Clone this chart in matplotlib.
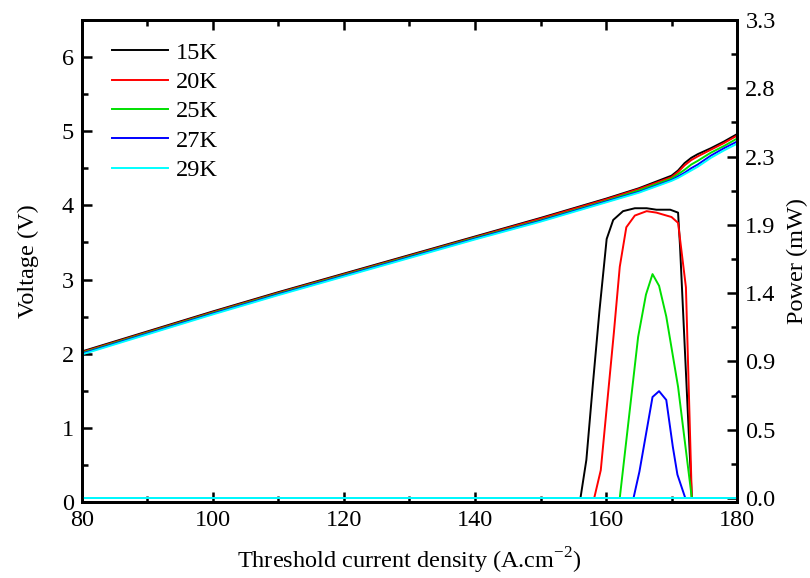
import numpy as np
import matplotlib
matplotlib.use("Agg")
import matplotlib.pyplot as plt
from matplotlib.ticker import MultipleLocator, FixedLocator

plt.rcParams['font.family'] = ['Liberation Serif', 'DejaVu Serif']
plt.rcParams['mathtext.fontset'] = 'custom'
plt.rcParams['mathtext.rm'] = 'Liberation Serif'

labels = ["15K", "20K", "25K", "27K", "29K"]
colors = ["#000000", "#ff0000", "#00e000", "#0000ff", "#00ffff"]

# Voltage vs current density (left axis)
j_volt = [80, 90, 100, 110, 120, 130, 140, 150, 160, 165, 170, 171, 172, 173, 174, 176, 178, 180]
v_15k = [2.03, 2.30, 2.57, 2.83, 3.08, 3.33, 3.58, 3.83, 4.09, 4.23, 4.40, 4.47, 4.57, 4.64, 4.69, 4.77, 4.86, 4.96]
v_20k = [2.02, 2.29, 2.56, 2.82, 3.07, 3.32, 3.57, 3.82, 4.08, 4.22, 4.38, 4.45, 4.54, 4.61, 4.66, 4.75, 4.84, 4.94]
v_25k = [2.01, 2.28, 2.55, 2.81, 3.06, 3.31, 3.56, 3.80, 4.06, 4.20, 4.36, 4.42, 4.48, 4.55, 4.60, 4.71, 4.80, 4.90]
v_27k = [2.00, 2.27, 2.54, 2.80, 3.05, 3.30, 3.55, 3.79, 4.05, 4.18, 4.34, 4.39, 4.44, 4.50, 4.55, 4.67, 4.77, 4.86]
v_29k = [1.99, 2.26, 2.53, 2.79, 3.04, 3.29, 3.54, 3.78, 4.04, 4.17, 4.33, 4.37, 4.42, 4.47, 4.52, 4.64, 4.74, 4.83]

# Optical power vs current density (right axis)
j_p15 = [80, 156.1, 157.0, 158.0, 159.0, 160.1, 161.1, 162.6, 164.4, 166.2, 167.7, 169.8, 171.0, 171.3, 173.1, 180]
p_15k = [0.0, 0.0, 0.26, 0.78, 1.28, 1.77, 1.90, 1.96, 1.98, 1.98, 1.97, 1.97, 1.95, 1.72, 0.0, 0.0]
j_p20 = [80, 158.2, 159.2, 160.2, 161.2, 162.1, 163.1, 164.4, 166.2, 167.7, 170.0, 171.0, 172.2, 173.1, 180]
p_20k = [0.0, 0.0, 0.19, 0.66, 1.13, 1.58, 1.85, 1.93, 1.96, 1.95, 1.92, 1.88, 1.44, 0.0, 0.0]
j_p25 = [80, 162.1, 164.9, 166.1, 167.1, 168.1, 169.2, 171.0, 173.1, 180]
p_25k = [0.0, 0.0, 1.10, 1.39, 1.53, 1.45, 1.24, 0.76, 0.0, 0.0]
j_p27 = [80, 164.2, 165.1, 167.1, 168.1, 169.2, 170.2, 170.9, 172.1, 180]
p_27k = [0.0, 0.0, 0.18, 0.69, 0.73, 0.67, 0.35, 0.16, 0.0, 0.0]
j_p29 = [80, 180]
p_29k = [0.0, 0.0]

volt_series = [v_15k, v_20k, v_25k, v_27k, v_29k]
power_series = [(j_p15, p_15k), (j_p20, p_20k), (j_p25, p_25k), (j_p27, p_27k), (j_p29, p_29k)]

fig = plt.figure(figsize=(8.1, 5.78), dpi=100)
ax = fig.add_axes([0.1012, 0.1315, 0.8087, 0.834])
ax2 = ax.twinx()

for v, c, lab in zip(volt_series, colors, labels):
    ax.plot(j_volt, v, color=c, lw=1.4, label=lab)
for (jj, pp), c in zip(power_series, colors):
    ax2.plot(jj, pp, color=c, lw=1.4)

ax.set_xlim(80, 180)
ax.set_ylim(0, 6.5)
p_step = 3.2667 / 7
ax2.set_ylim(-0.0273, 3.2667)

ax.xaxis.set_major_locator(MultipleLocator(20))
ax.xaxis.set_minor_locator(MultipleLocator(10))
ax.yaxis.set_major_locator(MultipleLocator(1))
ax.yaxis.set_minor_locator(MultipleLocator(0.5))
p_ticks = [i * p_step for i in range(8)]
ax2.yaxis.set_major_locator(FixedLocator(p_ticks))
ax2.set_yticklabels([f"{t:.1f}" for t in p_ticks])
ax2.yaxis.set_minor_locator(FixedLocator([(i + 0.5) * p_step for i in range(7)]))

fs = 17.5
ax.tick_params(which='both', direction='in', top=True, width=1.8, labelsize=fs, pad=6)
ax.tick_params(which='major', length=7)
ax.tick_params(which='minor', length=4)
ax.tick_params(axis='y', right=False)
ax2.tick_params(which='both', direction='in', width=1.8, labelsize=fs, pad=6)
ax2.tick_params(which='major', length=7)
ax2.tick_params(which='minor', length=4)

for a in (ax, ax2):
    for s in a.spines.values():
        s.set_linewidth(2)

ax.set_xlabel("Threshold current density (A.cm$^{-2}$)", fontsize=fs, labelpad=10)
ax.set_ylabel("Voltage (V)", fontsize=fs, labelpad=16)
ax2.set_ylabel("Power (mW)", fontsize=fs, labelpad=8)

leg = ax.legend(loc='upper left', frameon=False, fontsize=fs, handlelength=2.3,
                handletextpad=0.35, labelspacing=0.3, bbox_to_anchor=(0.012, 1.0))

fig.savefig("out.png", dpi=100)
